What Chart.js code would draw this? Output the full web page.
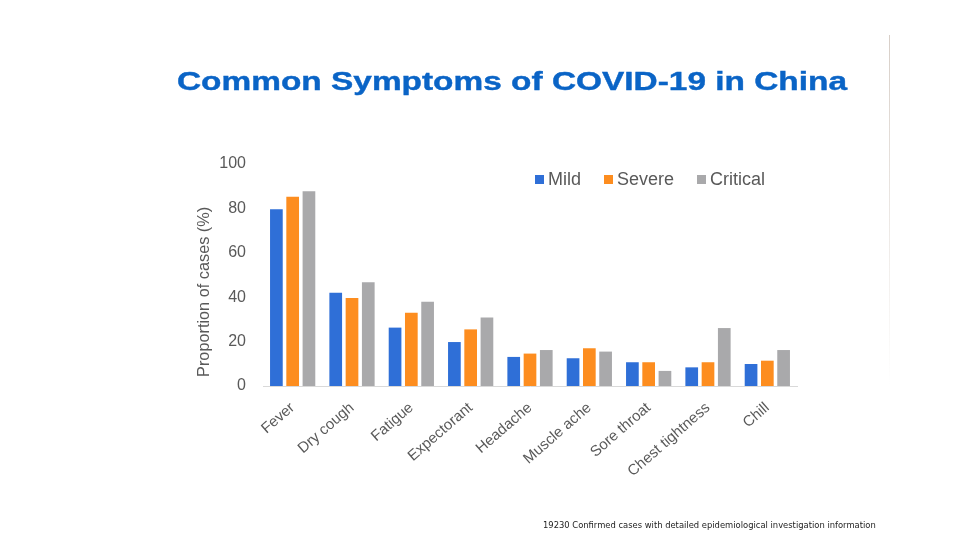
<!DOCTYPE html>
<html>
<head>
<meta charset="utf-8">
<script src="https://cdn.jsdelivr.net/npm/chart.js@4.4.1/dist/chart.umd.min.js"></script>
<style>
  html, body { margin: 0; padding: 0; background: #ffffff; }
  #page { position: relative; width: 960px; height: 540px; overflow: hidden; font-family: "Liberation Sans", Arial, sans-serif; }
  #chartBox { position: absolute; left: 0; top: 0; width: 960px; height: 540px; }
  #title { position: absolute; left: 177px; top: 69px; font-size: 25.5px; line-height: 25.5px; font-weight: bold; color: #0A64C6; white-space: nowrap; transform: scaleX(1.31); transform-origin: left top; -webkit-text-stroke: 0.4px #0A64C6; }
  #legend { position: absolute; left: 535px; top: 170px; display: flex; align-items: center; gap: 23px; font-size: 18px; line-height: 18px; color: #595959; }
  #legend .item { display: flex; align-items: center; }
  #legend .box { width: 9px; height: 9px; margin-right: 4px; }
  #note { position: absolute; left: 543px; top: 520px; font-family: "DejaVu Sans", sans-serif; font-size: 8.4px; line-height: 10px; color: #222222; white-space: nowrap; }
  #edge { position: absolute; left: 889px; top: 35px; width: 1px; height: 350px; background: linear-gradient(#d8cfc8, rgba(230,225,220,0)); }
</style>
</head>
<body>
<div id="page">
  <div id="chartBox"><canvas id="symptomChart" width="960" height="540"></canvas></div>
  <div id="title">Common Symptoms of COVID-19 in China</div>
  <div id="legend"></div>
  <div id="note">19230 Confirmed cases with detailed epidemiological investigation information</div>
  <div id="edge"></div>
</div>
<script>
// Data
const symptoms = ["Fever", "Dry cough", "Fatigue", "Expectorant", "Headache", "Muscle ache", "Sore throat", "Chest tightness", "Chill"];
const mild = [79.6, 42.0, 26.3, 19.8, 13.1, 12.5, 10.7, 8.4, 9.9];
const severe = [85.3, 39.6, 33.0, 25.5, 14.6, 17.0, 10.7, 10.7, 11.4];
const critical = [87.7, 46.7, 38.0, 30.8, 16.2, 15.5, 6.8, 26.1, 16.2];
const yTicks = [0, 20, 40, 60, 80, 100];

const seriesNames = ["Mild", "Severe", "Critical"];
const seriesColors = ["#2F6FD7", "#FD8D1F", "#A9A9AB"];
const textColor = "#595959";

const canvas = document.getElementById("symptomChart");
const legendBox = document.getElementById("legend");

const symptomChart = new Chart(canvas.getContext("2d"), {
  type: "bar",
  data: {
    labels: symptoms,
    datasets: [mild, severe, critical].map((values, i) => ({
      label: seriesNames[i],
      data: values,
      backgroundColor: seriesColors[i],
      borderWidth: 0,
      categoryPercentage: 0.823,
      barPercentage: 0.78,
    })),
  },
  options: {
    responsive: false,
    animation: false,
    layout: { padding: { left: 193, right: 163, top: 164, bottom: 0 } },
    plugins: {
      legend: { display: false },
      tooltip: { enabled: false },
    },
    scales: {
      x: {
        grid: { display: false, drawTicks: false },
        border: { display: true, color: "#D9D9D9", width: 1 },
        ticks: {
          color: textColor,
          font: { family: "Liberation Sans", size: 15 },
          minRotation: 41,
          maxRotation: 41,
          padding: 13,
          autoSkip: false,
        },
        afterFit: (scale) => { scale.height = 154; },
      },
      y: {
        min: 0,
        max: 100,
        afterBuildTicks: (scale) => { scale.ticks = yTicks.map((v) => ({ value: v })); },
        grid: { display: false, drawTicks: false },
        border: { display: false },
        ticks: {
          color: textColor,
          font: { family: "Liberation Sans", size: 16 },
          padding: 17,
        },
        title: {
          display: true,
          // leading spaces lift the title off the baseline like the original
          text: "  Proportion of cases (%)",
          color: textColor,
          align: "start",
          font: { family: "Liberation Sans", size: 16.3 },
          padding: { top: 2, bottom: 2 },
        },
        afterFit: (scale) => { scale.width = 70; },
      },
    },
  },
});

// HTML legend built from the datasets
symptomChart.data.datasets.forEach((ds) => {
  const item = document.createElement("div");
  item.className = "item";
  const box = document.createElement("span");
  box.className = "box";
  box.style.background = ds.backgroundColor;
  const label = document.createElement("span");
  label.textContent = ds.label;
  item.appendChild(box);
  item.appendChild(label);
  legendBox.appendChild(item);
});
</script>
</body>
</html>
